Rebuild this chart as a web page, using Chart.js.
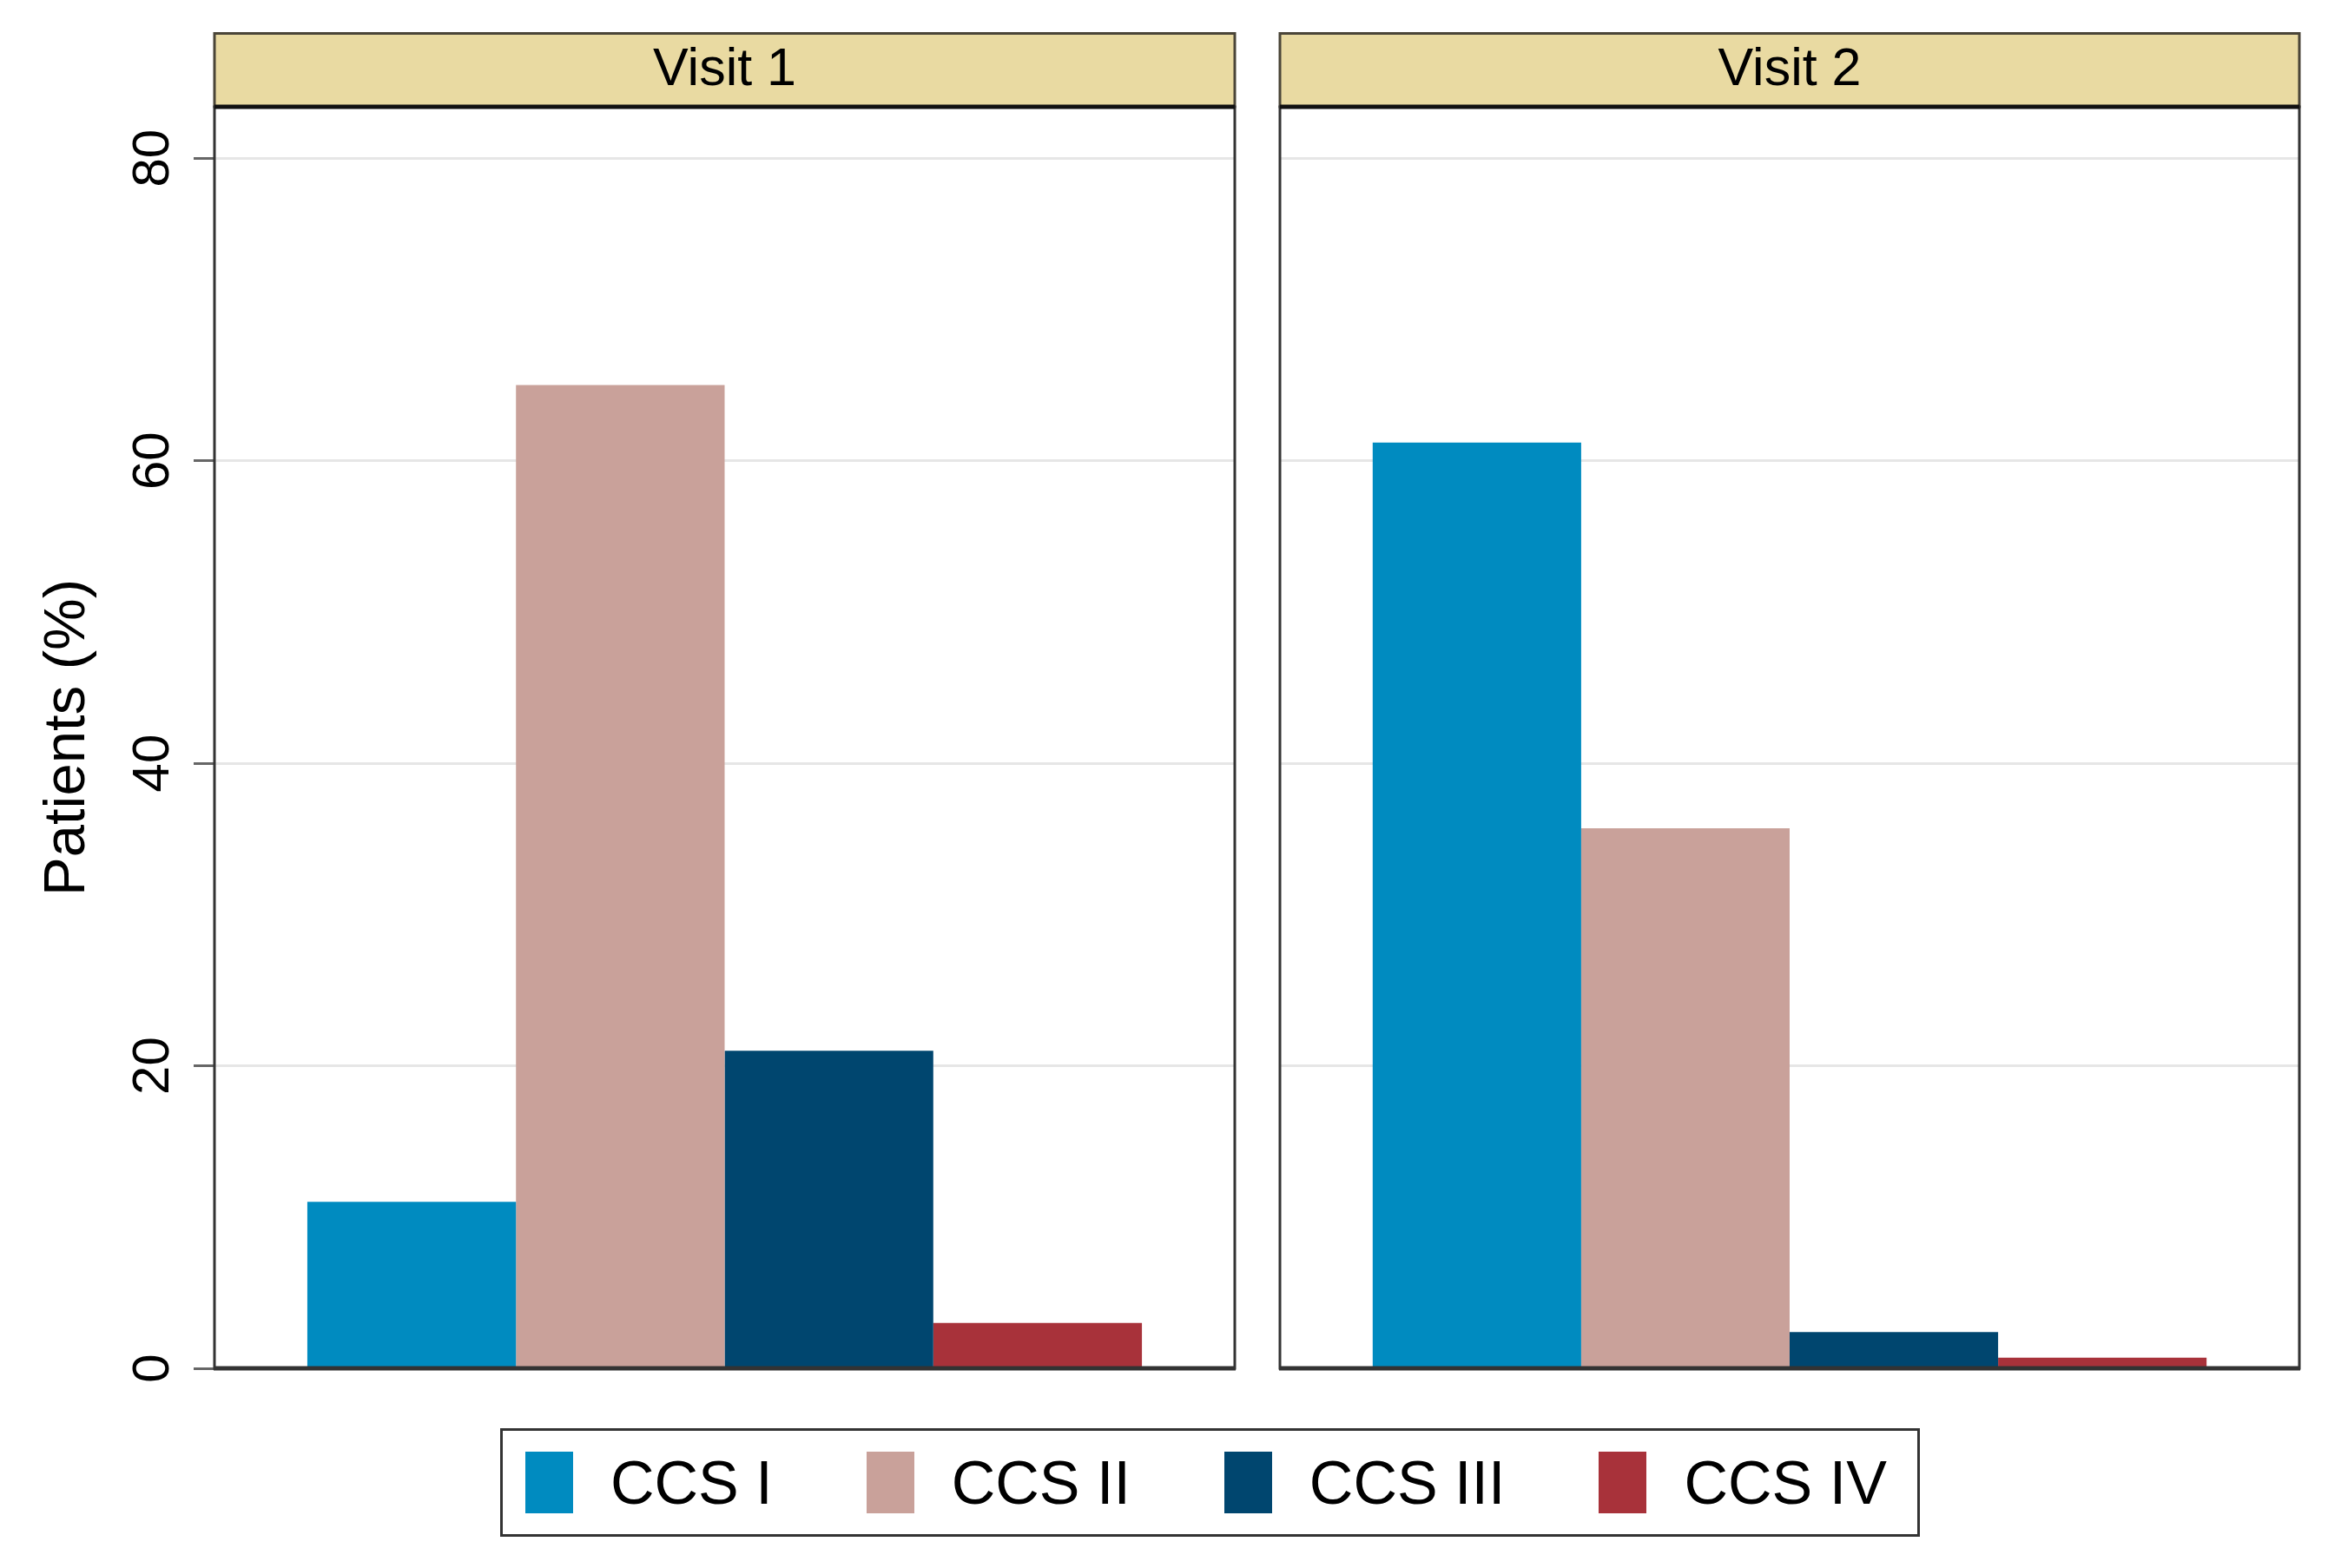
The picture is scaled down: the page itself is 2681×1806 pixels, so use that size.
<!DOCTYPE html>
<html>
<head>
<meta charset="utf-8">
<script src="https://cdn.jsdelivr.net/npm/chart.js@4.4.1/dist/chart.umd.min.js"></script>
<style>
  html, body { margin: 0; padding: 0; background: #fff; }
  #wrap { position: relative; width: 2681px; height: 1806px; background: #fff;
          font-family: "Liberation Sans", Arial, Helvetica, sans-serif; }
  #c1 { position: absolute; left: 0; top: 0; }
  #c2 { position: absolute; left: 1448px; top: 0; }
  #legend { position: absolute; left: 576px; top: 1645px; width: 1635px; height: 125px;
            box-sizing: border-box; border: 3px solid #333; display: flex; align-items: center;
            padding-left: 26px; white-space: nowrap; }
  .item { display: flex; align-items: center; margin-right: 108px; flex-shrink: 0; }
  .sw { width: 55px; height: 71px; margin-right: 43px; flex-shrink: 0; }
  .lab { font-size: 70px; color: #000; line-height: 1; white-space: nowrap; }
</style>
</head>
<body>
<div id="wrap">
  <canvas id="c1" width="1448" height="1640"></canvas>
  <canvas id="c2" width="1233" height="1640"></canvas>
  <div id="legend"></div>
</div>
<script>
const panelTitles = ['Visit 1', 'Visit 2'];
const seriesNames = ['CCS I', 'CCS II', 'CCS III', 'CCS IV'];
const visit1Values = [11.0, 65.0, 21.0, 3.0];
const visit2Values = [61.2, 35.7, 2.4, 0.7];
const seriesColors = ['#008BC0', '#C9A19A', '#00466F', '#A8323A'];
const yTicks = [0, 20, 40, 60, 80];
const yMax = 83.4;

const FONT = '"Liberation Sans", Arial, Helvetica, sans-serif';

// header strip + panel frame
const panelFrame = {
    id: 'panelFrame',
    beforeDraw(chart, args, opts) {
        const { ctx, chartArea: a } = chart;
        ctx.save();
        ctx.fillStyle = '#E9DAA2';
        ctx.fillRect(a.left, 37, a.right - a.left, a.top - 37);
        ctx.strokeStyle = '#4a4538';
        ctx.lineWidth = 3;
        ctx.strokeRect(a.left, 38.5, a.right - a.left, a.top - 38.5);
        ctx.fillStyle = '#000';
        ctx.font = '61px ' + FONT;
        ctx.textAlign = 'center';
        ctx.textBaseline = 'alphabetic';
        ctx.fillText(opts.title, (a.left + a.right) / 2, 98);
        ctx.restore();
    },
    afterDatasetsDraw(chart) {
        const { ctx, chartArea: a } = chart;
        ctx.save();
        ctx.strokeStyle = '#333';
        ctx.lineWidth = 3;
        ctx.strokeRect(a.left, a.top, a.right - a.left, a.bottom - a.top);
        ctx.lineWidth = 5;
        ctx.strokeStyle = '#111';
        ctx.beginPath();
        ctx.moveTo(a.left, a.top);
        ctx.lineTo(a.right, a.top);
        ctx.stroke();
        ctx.strokeStyle = '#333';
        ctx.beginPath();
        ctx.moveTo(a.left - 1, a.bottom);
        ctx.lineTo(a.right + 1, a.bottom);
        ctx.stroke();
        ctx.restore();
    }
};

function makePanel(canvasId, title, values, withAxis, padRight) {
    const ctx = document.getElementById(canvasId);
    return new Chart(ctx, {
        type: 'bar',
        data: {
            labels: [''],
            datasets: seriesNames.map((name, i) => ({
                label: name,
                data: [values[i]],
                backgroundColor: seriesColors[i],
                borderWidth: 0,
                categoryPercentage: 0.818,
                barPercentage: 1
            }))
        },
        plugins: [panelFrame],
        options: {
            responsive: false,
            animation: false,
            layout: { padding: { top: 123, right: padRight, bottom: 64, left: 0 } },
            scales: {
                x: { display: false },
                y: {
                    min: 0,
                    max: yMax,
                    afterFit(s) { s.width = withAxis ? 247 : 26; },
                    afterBuildTicks(s) { s.ticks = yTicks.map(v => ({ value: v })); },
                    grid: {
                        color: '#E6E6E6',
                        lineWidth: 3,
                        drawTicks: withAxis,
                        tickLength: withAxis ? 24 : 0,
                        tickColor: '#666',
                        tickWidth: 3
                    },
                    border: { display: false },
                    ticks: {
                        display: withAxis,
                        minRotation: 90,
                        maxRotation: 90,
                        crossAlign: 'center',
                        padding: 12,
                        color: '#000',
                        font: { size: 60, family: FONT }
                    },
                    title: {
                        display: withAxis,
                        text: 'Patients (%)',
                        color: '#000',
                        font: { size: 67, family: FONT },
                        padding: { top: 38, bottom: 0 }
                    }
                }
            },
            plugins: {
                legend: { display: false },
                tooltip: { enabled: false },
                panelFrame: { title: title }
            }
        }
    });
}

makePanel('c1', panelTitles[0], visit1Values, true, 26);
makePanel('c2', panelTitles[1], visit2Values, false, 33);

// shared legend below both panels
const legend = document.getElementById('legend');
seriesNames.forEach((name, i) => {
    const item = document.createElement('div');
    item.className = 'item';
    item.innerHTML = '<div class="sw" style="background:' + seriesColors[i] + '"></div>' +
        '<span class="lab">' + name + '</span>';
    legend.appendChild(item);
});
</script>
</body>
</html>
